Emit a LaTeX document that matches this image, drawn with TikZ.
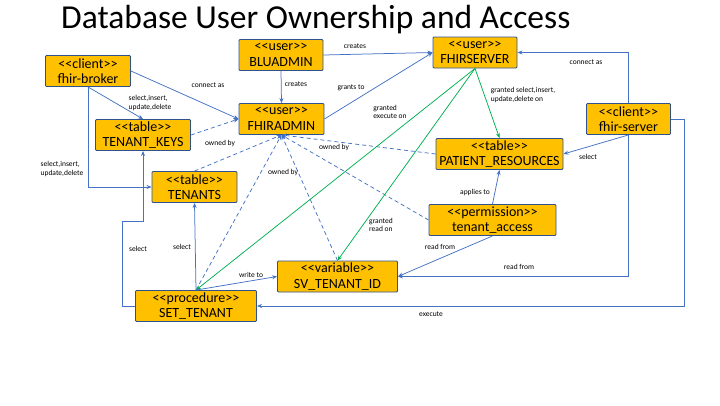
\documentclass[tikz,border=0pt]{standalone}
\usepackage{fontspec}
\setmainfont{Carlito}[Ligatures=TeXOff]
\usetikzlibrary{arrows.meta}
\definecolor{boxfill}{HTML}{FFC000}
\definecolor{boxline}{HTML}{2F528F}
\definecolor{linkblue}{HTML}{4472C4}
\definecolor{grantgreen}{HTML}{00B050}
\begin{document}
\begin{tikzpicture}[
        x=1pt,
        y=-1pt,
        % box and connector styles
        obj/.style={draw=boxline,fill=boxfill,line width=0.9pt,rounded corners=1pt,
            minimum height=31pt,inner sep=0pt,align=center,font=\fontsize{14}{15.5}\selectfont},
        rel/.style={draw=linkblue,line width=0.75pt,-{Stealth[length=5pt,width=4pt]}},
        own/.style={rel,dash pattern=on 4pt off 3pt},
        grant/.style={rel,draw=grantgreen},
        lbl/.style={font=\fontsize{7.5}{8.8}\selectfont,align=left,inner sep=0pt},
    ]
    \useasboundingbox (0,0) rectangle (720,405);

    % title
    \node[anchor=base west,inner sep=0pt,font=\fontsize{33.5}{38}\selectfont] (title) at (61,28)
        {Database User Ownership and Access};

    % boxes
    \node[obj,minimum width=85pt]  (broker)  at (88,71)     {<<client>>\\fhir-broker};
    \node[obj,minimum width=84pt]  (bluadmin) at (281,55)   {<<user>>\\BLUADMIN};
    \node[obj,minimum width=84pt]  (fhirserver) at (475,52.5) {<<user>>\\FHIRSERVER};
    \node[obj,minimum width=85pt]  (fhiradmin) at (281.5,119) {<<user>>\\FHIRADMIN};
    \node[obj,minimum width=95pt]  (keys)    at (143,135)   {<<table>>\\TENANT\_KEYS};
    \node[obj,minimum width=85pt]  (tenants) at (194.5,187) {<<table>>\\TENANTS};
    \node[obj,minimum width=127pt] (patient) at (499.5,154) {<<table>>\\PATIENT\_RESOURCES};
    \node[obj,minimum width=84pt]  (server)  at (628.5,119) {<<client>>\\fhir-server};
    \node[obj,minimum width=127pt] (access)  at (492.5,220) {<<permission>>\\tenant\_access};
    \node[obj,minimum width=120pt] (svid)    at (337.5,276.5) {<<variable>>\\SV\_TENANT\_ID};
    \node[obj,minimum width=121pt] (settenant) at (196,306) {<<procedure>>\\SET\_TENANT};

    % bends of the elbow connectors
    \coordinate (keysbend) at (122,221);
    \coordinate (execbend) at (684,306);

    % fhir-broker
    \draw[rel] (broker.east) -- (fhiradmin.west);
    \draw[rel] (broker.south) -- (keys.north);
    \draw[rel] (broker.south) |- (tenants.west);

    % users
    \draw[rel] (bluadmin.east) -- (fhirserver.west);
    \draw[rel] (bluadmin.south) -- (fhiradmin.north);
    \draw[rel] (fhiradmin.east) -- (fhirserver.west);

    % ownership (dashed)
    \draw[own] (keys.east) -- (fhiradmin.west);
    \draw[own] (tenants.north) -- (fhiradmin.south);
    \draw[own] (settenant.north) -- (fhiradmin.south);
    \draw[own] (svid.north) -- (fhiradmin.south);
    \draw[own] (patient.west) -- (fhiradmin.south);
    \draw[own] (access.west) -- (fhiradmin.south);

    % grants (green)
    \draw[grant] (fhirserver.south) -- (patient.north);
    \draw[grant] (fhirserver.south) -- (settenant.north);
    \draw[grant] (fhirserver.south) -- (svid.north);

    % fhir-server
    \draw[rel] (server.north) |- (fhirserver.east);
    \draw[rel] (server.south) -- (patient.east);
    \draw[rel] (server.south) |- (svid.east);
    \draw[rel] (server.east) -| (execbend) -- (settenant.east);

    % permission and procedure
    \draw[rel] (access.north) -- (patient.south);
    \draw[rel] (access.south) -- (svid.east);
    \draw[rel] (settenant.north) -- (tenants.south);
    \draw[rel] (settenant.north) -- (svid.west);
    \draw[rel] (settenant.west) -| (keysbend) -| (keys.south);

    % connector labels
    \node[lbl] (lbrokeradmin) at (208,85)  {connect as};
    \node[lbl] (lbrokerkeys)  at (150,103) {select,insert,\\update,delete};
    \node[lbl] (lbrokerten)   at (62,169)  {select,insert,\\update,delete};
    \node[lbl] (lcreates)     at (355,46)  {creates};
    \node[lbl] (lcreatesadm)  at (296,84)  {creates};
    \node[lbl] (lgrantsto)    at (351,88)  {grants to};
    \node[lbl] (lownkeys)     at (220,143) {owned by};
    \node[lbl] (lownpat)      at (334,147) {owned by};
    \node[lbl] (lownsv)       at (283,172) {owned by};
    \node[lbl] (lexecon)      at (390,112) {granted\\execute on};
    \node[lbl] (lgrantpat)    at (523,95)  {granted select,insert,\\update,delete on};
    \node[lbl] (lreadon)      at (381,225) {granted\\read on};
    \node[lbl] (lserverconn)  at (586,62)  {connect as};
    \node[lbl] (lserversel)   at (588,157) {select};
    \node[lbl] (lapplies)     at (475,192) {applies to};
    \node[lbl] (laccessread)  at (440,247) {read from};
    \node[lbl] (lserverread)  at (519,267) {read from};
    \node[lbl] (lexecute)     at (431,314) {execute};
    \node[lbl] (lwrite)       at (251,275) {write to};
    \node[lbl] (lselten)      at (182,247) {select};
    \node[lbl] (lselkeys)     at (138,249) {select};
\end{tikzpicture}
\end{document}
